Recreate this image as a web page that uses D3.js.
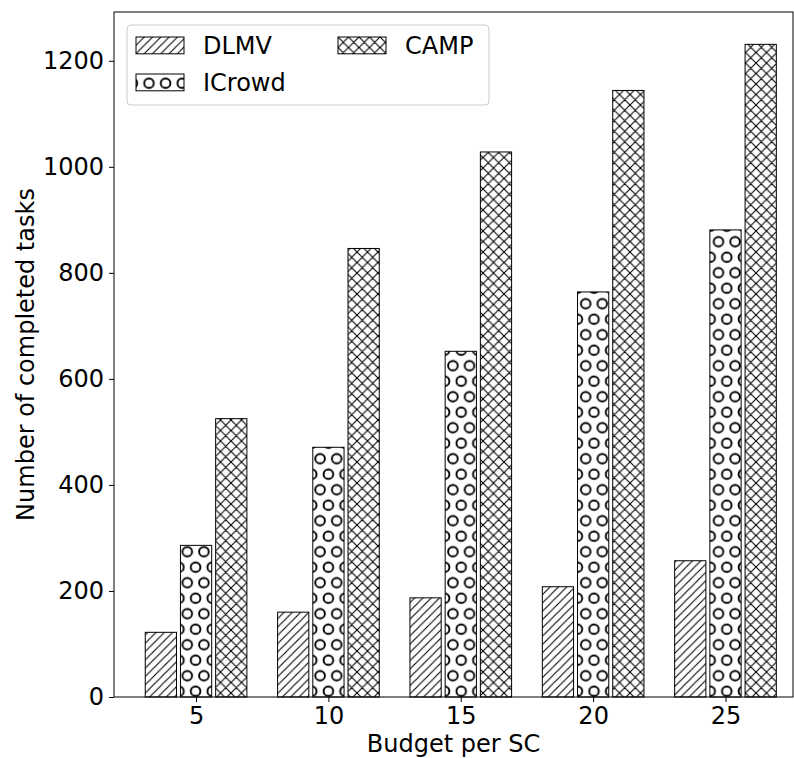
<!DOCTYPE html>
<html>
<head>
<meta charset="utf-8">
<script src="https://cdn.jsdelivr.net/npm/d3@7"></script>
<style>
  body { margin: 0; background: #fff; }
  text { font-family: "DejaVu Sans", sans-serif; fill: #000; }
</style>
</head>
<body>
<div id="chart"></div>
<script>
// data
var budgets = [5, 10, 15, 20, 25];
var seriesNames = ["DLMV", "ICrowd", "CAMP"];
var dlmv = [122, 160, 187, 208, 257];
var icrowd = [286, 471, 652, 764, 881];
var camp = [525, 846, 1028, 1144, 1231];
var yTicks = [0, 200, 400, 600, 800, 1000, 1200];

var W = 794, H = 758;
var plotL = 114, plotR = 793, plotT = 12, plotB = 697;

var svg = d3.select("#chart").append("svg")
  .attr("width", W)
  .attr("height", H);

// hatch patterns (mimic matplotlib '//', 'O', 'x')
var defs = svg.append("defs");

defs.append("pattern")
  .attr("id", "hatch-diag")
  .attr("patternUnits", "userSpaceOnUse")
  .attr("width", 8.3).attr("height", 8.3)
  .append("path")
  .attr("d", "M-2,2L2,-2M0,8.3L8.3,0M6.3,10.3L10.3,6.3")
  .attr("stroke", "#000").attr("stroke-width", 1.1).attr("fill", "none");

var cx = 16.6, cy = 15.5;
var circ = defs.append("pattern")
  .attr("id", "hatch-circle")
  .attr("patternUnits", "userSpaceOnUse")
  .attr("x", 4.7).attr("y", 24.7)
  .attr("width", cx).attr("height", cy * 2);
[[0, 0], [cx, 0], [0, cy * 2], [cx, cy * 2], [cx / 2, cy]].forEach(function(p) {
  circ.append("circle")
    .attr("cx", p[0]).attr("cy", p[1]).attr("r", 4.8)
    .attr("fill", "none").attr("stroke", "#000").attr("stroke-width", 1.9);
});

var cp = 10.5; // crosshatch period
defs.append("pattern")
  .attr("id", "hatch-cross")
  .attr("patternUnits", "userSpaceOnUse")
  .attr("width", cp).attr("height", cp)
  .append("path")
  .attr("d", "M0," + cp + "L" + cp + ",0M0,0L" + cp + "," + cp +
    "M-2,2L2,-2M" + (cp - 2) + "," + (cp + 2) + "L" + (cp + 2) + "," + (cp - 2) +
    "M-2," + (cp - 2) + "L2," + (cp + 2) + "M" + (cp - 2) + ",-2L" + (cp + 2) + ",2")
  .attr("stroke", "#000").attr("stroke-width", 1.1).attr("fill", "none");

var fills = ["url(#hatch-diag)", "url(#hatch-circle)", "url(#hatch-cross)"];
var values = [dlmv, icrowd, camp];

var x = d3.scaleLinear().domain([1.9, 27.55]).range([plotL, plotR]);
var y = d3.scaleLinear().domain([0, 1292]).range([plotB, plotT]);

var barW = 1.18, offs = [-1.33, 0, 1.33];

var bars = [];
values.forEach(function(vals, s) {
  vals.forEach(function(v, i) {
    bars.push({ s: s, x: budgets[i] + offs[s], v: v });
  });
});

svg.append("g").selectAll("rect")
  .data(bars)
  .enter().append("rect")
  .attr("x", function(d) { return x(d.x - barW / 2); })
  .attr("y", function(d) { return y(d.v); })
  .attr("width", function(d) { return x(d.x + barW / 2) - x(d.x - barW / 2); })
  .attr("height", function(d) { return y(0) - y(d.v); })
  .attr("fill", function(d) { return fills[d.s]; })
  .attr("stroke", "#000")
  .attr("stroke-width", 1);

// axes
var xAxis = svg.append("g")
  .attr("transform", "translate(0," + plotB + ")")
  .call(d3.axisBottom(x).tickValues(budgets).tickSize(5).tickPadding(5));
var yAxis = svg.append("g")
  .attr("transform", "translate(" + plotL + ",0)")
  .call(d3.axisLeft(y).tickValues(yTicks).tickSize(5).tickPadding(5)
    .tickFormat(d3.format("d")));

[xAxis, yAxis].forEach(function(a) {
  a.select(".domain").remove();
  a.selectAll("line").attr("stroke", "#000").attr("stroke-width", 1);
  a.selectAll("text")
    .style("font-family", "DejaVu Sans")
    .style("font-size", "24px");
});

// frame
svg.append("rect")
  .attr("x", plotL).attr("y", plotT)
  .attr("width", plotR - plotL).attr("height", plotB - plotT)
  .attr("fill", "none").attr("stroke", "#000").attr("stroke-width", 1);

svg.append("text")
  .attr("x", (plotL + plotR) / 2)
  .attr("y", 752)
  .attr("text-anchor", "middle")
  .style("font-size", "24px")
  .text("Budget per SC");

svg.append("text")
  .attr("transform", "translate(34," + (plotT + plotB) / 2 + ") rotate(-90)")
  .attr("text-anchor", "middle")
  .style("font-size", "24px")
  .text("Number of completed tasks");

// legend
var legend = svg.append("g");
legend.append("rect")
  .attr("x", 127).attr("y", 25)
  .attr("width", 362).attr("height", 80)
  .attr("rx", 4)
  .attr("fill", "#fff").attr("fill-opacity", 0.8)
  .attr("stroke", "#ccc");

var legPos = [[136, 37], [136, 74], [338, 37]];
seriesNames.forEach(function(name, s) {
  var g = legend.append("g")
    .attr("transform", "translate(" + legPos[s][0] + "," + legPos[s][1] + ")");
  g.append("rect")
    .attr("width", 48).attr("height", 16.8)
    .attr("fill", fills[s])
    .attr("stroke", "#000").attr("stroke-width", 1);
  g.append("text")
    .attr("x", 48 + 19)
    .attr("y", 8.4)
    .attr("dy", "0.35em")
    .style("font-size", "24px")
    .text(name);
});
</script>
</body>
</html>
